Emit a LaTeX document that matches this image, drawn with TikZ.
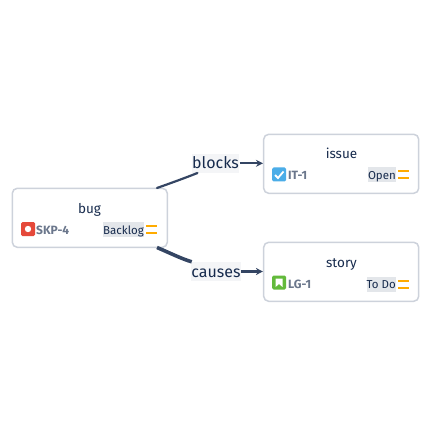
\documentclass[tikz,border=0pt]{standalone}
\usepackage{fontspec}
\setmainfont{Fira Sans}
\usetikzlibrary{arrows.meta}
\definecolor{edgeblue}{HTML}{344563}
\definecolor{titleblue}{HTML}{172B4D}
\definecolor{keygrey}{HTML}{6B778C}
\definecolor{boxline}{HTML}{CDD2DB}
\definecolor{statusbg}{HTML}{E3E6EA}
\definecolor{labelbg}{HTML}{F4F5F7}
\definecolor{prio}{HTML}{FFAB00}
\definecolor{bugred}{HTML}{E5493A}
\definecolor{taskblue}{HTML}{4BADE8}
\definecolor{storygreen}{HTML}{63BA3C}
\begin{document}
\begin{tikzpicture}[x=1pt,y=-1pt,>={Stealth[length=7pt,width=7pt]}]
    \tikzstyle{card}=[draw=boxline,line width=1.5pt,fill=white,rounded corners=5pt,minimum width=155pt,minimum height=59pt,inner sep=0pt]
    \tikzstyle{title}=[text=titleblue,font=\fontsize{13.5}{15}\selectfont,inner sep=0pt,anchor=base]
    \tikzstyle{key}=[text=keygrey,font=\fontsize{12}{14}\selectfont\bfseries,anchor=base west,inner sep=0pt]
    \tikzstyle{status}=[fill=statusbg,text=titleblue,font=\fontsize{11.5}{14}\selectfont,anchor=east,inner xsep=0pt,inner ysep=1.5pt,text height=10.5pt,text depth=1.5pt]
    \tikzstyle{linklabel}=[fill=labelbg,text=titleblue,font=\fontsize{16}{18}\selectfont,inner xsep=0.5pt,inner ysep=2pt,text height=13pt,text depth=2pt]
    \tikzstyle{icon}=[rounded corners=1.5pt,minimum size=14pt,inner sep=0pt]
    \tikzstyle{prioline}=[draw=prio,line width=2pt]
    \useasboundingbox (0,0) rectangle (438,438);

    % Draw the link labels and free ends
    \coordinate (bugtop) at (157,188);
    \coordinate (bugbot) at (157,247.5);
    \node[linklabel] (blocks) at (215.5,163.3) {blocks};
    \node[linklabel] (causes) at (216,271.5) {causes};

    % Draw the cards
    \node[card] (bug) at (89.8,217.8) {};
    \node[card] (issue) at (341.2,163.8) {};
    \node[card] (story) at (341.2,271.8) {};

    \draw[edgeblue,line width=2.2pt,line cap=round] (bugtop) .. controls (171,183) and (185,178) .. ([xshift=6pt]blocks.south west);
    \draw[edgeblue,line width=2pt,->] (blocks) -- (issue.west |- blocks);
    \draw[edgeblue,line width=3.6pt] (bugbot) .. controls (170,253) and (182,259) .. ([xshift=1pt]causes.north west);
    \draw[edgeblue,line width=3.2pt,->] (causes) -- (story.west |- causes);

    % Titles
    \node[title] (bugtitle) at (89.5,213) {bug};
    \node[title] (issuetitle) at (341.5,159) {issue};
    \node[title] (storytitle) at (341.5,267) {story};

    % Icons
    \node[icon,fill=bugred] (bugicon) at (28,229) {};
    \fill[white] (bugicon) circle (3.2pt);
    \node[icon,fill=taskblue] (issueicon) at (279,174.5) {};
    \draw[white,line width=1.8pt] (275,175) -- (278,178) -- (283.5,171.5);
    \node[icon,fill=storygreen] (storyicon) at (279,282.5) {};
    \fill[white] (275.5,278.5) -- (282.5,278.5) -- (282.5,287) -- (279,284) -- (275.5,287) -- cycle;

    % Keys
    \node[key] (bugkey) at (36,234) {SKP-4};
    \node[key] (issuekey) at (288,180) {IT-1};
    \node[key] (storykey) at (288,288) {LG-1};

    % Status and priority
    \foreach \name/\txt/\x/\y in {bug/Backlog/144/229.5,issue/Open/396/175,story/To Do/396/284} {
        \node[status] (\name status) at (\x,\y) {\txt};
        \draw[prioline] (\x+2,\y-3.5) -- (\x+13,\y-3.5);
        \draw[prioline] (\x+2,\y+3.5) -- (\x+13,\y+3.5);
    }
\end{tikzpicture}
\end{document}
